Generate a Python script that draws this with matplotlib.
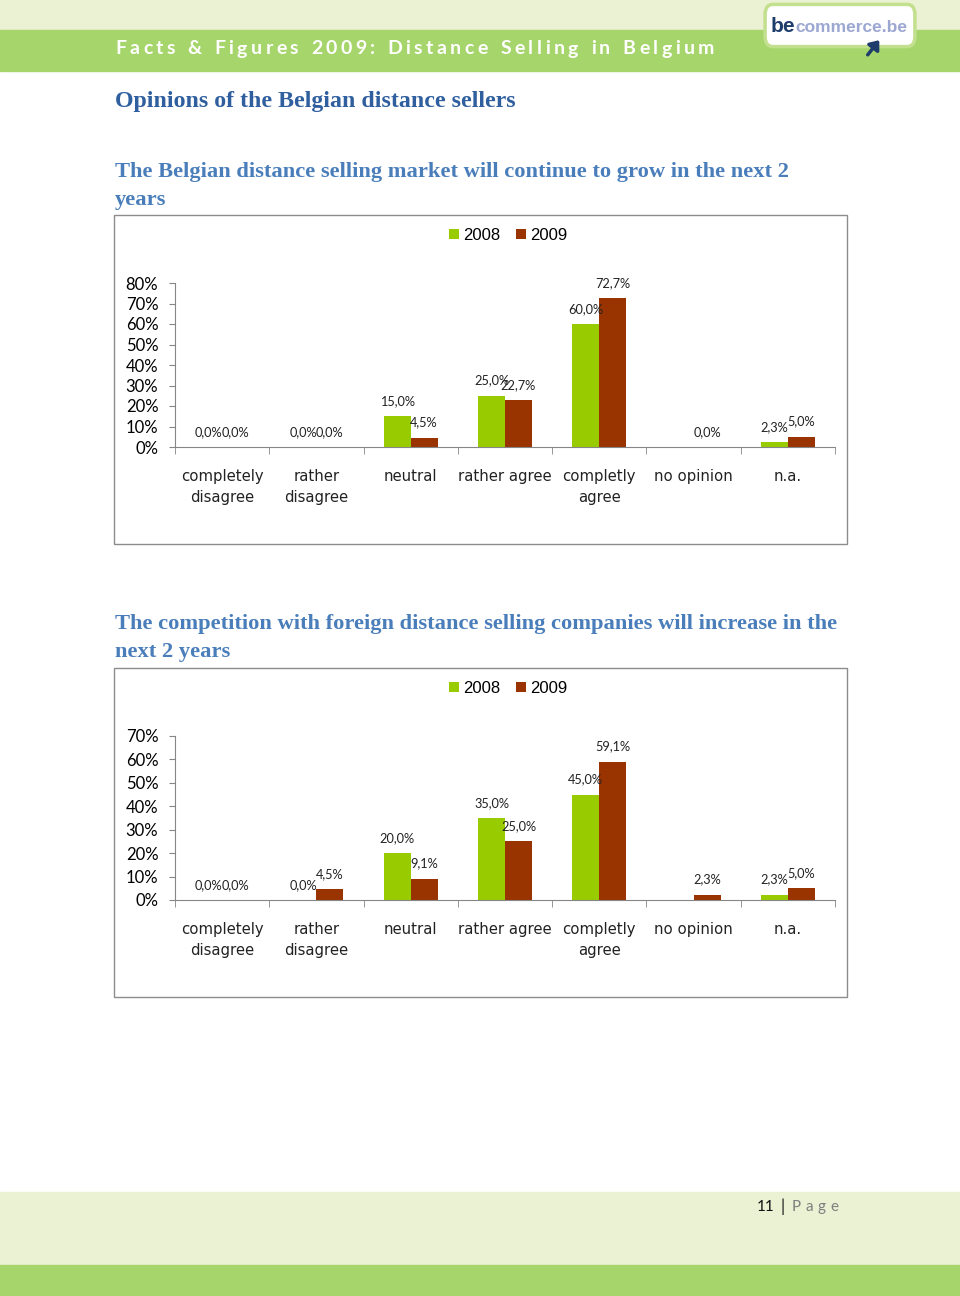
import matplotlib
matplotlib.use("Agg")
import matplotlib.pyplot as plt
import numpy as np
from matplotlib.patches import Rectangle, FancyBboxPatch, FancyArrowPatch
from matplotlib.ticker import FuncFormatter

W, H = 960, 1296

CATEGORIES = ["completely\ndisagree", "rather\ndisagree", "neutral", "rather agree",
              "completly\nagree", "no opinion", "n.a."]
YEARS = ["2008", "2009"]

GROW_2008 = [0.0, 0.0, 15.0, 25.0, 60.0, np.nan, 2.3]
GROW_2009 = [0.0, 0.0, 4.5, 22.7, 72.7, 0.0, 5.0]

COMP_2008 = [0.0, 0.0, 20.0, 35.0, 45.0, np.nan, 2.3]
COMP_2009 = [0.0, 4.5, 9.1, 25.0, 59.1, 2.3, 5.0]

GREEN = "#99CC00"
RED = "#993300"
BLUE_DARK = "#2F5F9E"
BLUE = "#4A7EBB"
BAND = "#A6D56B"
PALE = "#EBF1D3"
AXIS_GRAY = "#868686"


def fx(x):
    return x / W


def fy(y):
    return 1 - y / H


def spaced_text(fig, x, y, s, spacing, **kw):
    """Draw text letter by letter so it gets the wide tracking of the original."""
    r = fig.canvas.get_renderer()
    for ch in s:
        t = fig.text(fx(x), fy(y), ch, va="center", ha="left", **kw)
        if ch == " ":
            w = kw.get("fontsize", 10) * 100 / 72 * 0.28
        else:
            w = t.get_window_extent(r).width
        x += w + spacing
    return x


def pct(v):
    return f"{v:.1f}%".replace(".", ",")


def bar_chart(fig, top_px, box_top, ymax, v2008, v2009):
    # frame round the chart
    fig.add_artist(Rectangle((fx(114), fy(box_top + 329)), fx(733), 329 / H,
                             fill=False, edgecolor="#8C8C8C", linewidth=1.0,
                             transform=fig.transFigure))
    h = 164
    ax = fig.add_axes([fx(175), fy(top_px + h), fx(660), h / H])
    x = np.arange(len(CATEGORIES))
    bw = 0.286
    a = np.array(v2008, dtype=float)
    b = np.array(v2009, dtype=float)
    bars_a = ax.bar(x - bw / 2, np.nan_to_num(a), bw, color=GREEN, label=YEARS[0])
    bars_b = ax.bar(x + bw / 2, b, bw, color=RED, label=YEARS[1])
    for bars, vals in ((bars_a, a), (bars_b, b)):
        for rect, v in zip(bars, vals):
            if np.isnan(v):
                continue
            ax.annotate(pct(v), (rect.get_x() + rect.get_width() / 2, v),
                        xytext=(0, 11), textcoords="offset points",
                        ha="center", va="center", fontsize=9.2,
                        family="Lato", color="#222222")

    ax.set_xlim(-0.5, len(CATEGORIES) - 0.5)
    ax.set_ylim(0, ymax)
    ax.set_yticks(np.arange(0, ymax + 1, 10))
    ax.yaxis.set_major_formatter(FuncFormatter(lambda v, _: f"{v:.0f}%"))
    ax.set_xticks(x)
    ax.set_xticklabels(CATEGORIES, fontsize=10.7, family="DejaVu Sans",
                       linespacing=1.55, color="#222222")
    ax.set_xticks(np.arange(-0.5, len(CATEGORIES)), minor=True)
    ax.tick_params(axis="x", which="major", length=0, pad=15.5)
    ax.tick_params(axis="x", which="minor", length=5, color=AXIS_GRAY)
    ax.tick_params(axis="y", length=4, color=AXIS_GRAY, labelsize=12, pad=8)
    for lab in ax.get_yticklabels():
        lab.set_family("Lato")
    for side in ("top", "right"):
        ax.spines[side].set_visible(False)
    for side in ("left", "bottom"):
        ax.spines[side].set_color(AXIS_GRAY)
    ax.set_facecolor("none")

    ax.legend(loc="center", bbox_to_anchor=(0.505, 1.29), ncol=2, frameon=False,
              handlelength=0.6, handleheight=0.6, handletextpad=0.25,
              columnspacing=0.9, prop={"family": "Liberation Sans", "size": 12})
    return ax


fig = plt.figure(figsize=(9.6, 12.96), dpi=100)
fig.patch.set_facecolor("white")

# header bands
fig.add_artist(Rectangle((0, fy(30)), 1, 30 / H, color=PALE, transform=fig.transFigure))
fig.add_artist(Rectangle((0, fy(71)), 1, 41 / H, color=BAND, transform=fig.transFigure))
spaced_text(fig, 115, 49, "Facts & Figures 2009: Distance Selling in Belgium", 3.45,
            fontsize=14, family="Lato", color="white", fontweight="bold")

# logo
fig.add_artist(FancyBboxPatch((fx(767), fy(44)), fx(146), 37 / H,
                              boxstyle="round,pad=0.002,rounding_size=0.008",
                              facecolor="white", edgecolor="#C3E08F", linewidth=2.5,
                              transform=fig.transFigure))
fig.text(fx(771), fy(27), "be", fontsize=15, fontweight="bold", family="Liberation Sans",
         color="#1F3D6B", va="center", ha="left")
fig.text(fx(795), fy(27), "commerce.be", fontsize=12.5, fontweight="bold",
         family="Liberation Sans", color="#9CA8D2", va="center", ha="left")
fig.add_artist(FancyArrowPatch((fx(866), fy(57)), (fx(881), fy(38)),
                               arrowstyle="-|>,head_length=5,head_width=4",
                               color="#1F3D6B", linewidth=2.5, transform=fig.transFigure))

# headings
fig.text(fx(115), fy(101), "Opinions of the Belgian distance sellers", fontsize=17.2,
         fontweight="bold", family="Liberation Serif", color=BLUE_DARK, va="center")
fig.text(fx(115), fy(186),
         "The Belgian distance selling market will continue to grow in the next 2\nyears",
         fontsize=16.2, fontweight="bold", family="Liberation Serif", color=BLUE,
         va="center", linespacing=1.5)
fig.text(fx(115), fy(638),
         "The competition with foreign distance selling companies will increase in the\nnext 2 years",
         fontsize=16.2, fontweight="bold", family="Liberation Serif", color=BLUE,
         va="center", linespacing=1.5)

bar_chart(fig, 283, 215, 80, GROW_2008, GROW_2009)
bar_chart(fig, 736, 668, 70, COMP_2008, COMP_2009)

# footer
fig.add_artist(Rectangle((0, fy(1265)), 1, 73 / H, color=PALE, transform=fig.transFigure))
fig.add_artist(Rectangle((0, 0), 1, 31 / H, color=BAND, transform=fig.transFigure))
fig.text(fx(757), fy(1207), "11", fontsize=11, family="Lato", color="#111111", va="center")
fig.text(fx(780), fy(1207), "|", fontsize=12, family="Lato", color="#111111", va="center")
spaced_text(fig, 792, 1207, "Page", 4.5, fontsize=11, family="Lato", color="#7F7F7F")

fig.savefig("out.png", dpi=100)
